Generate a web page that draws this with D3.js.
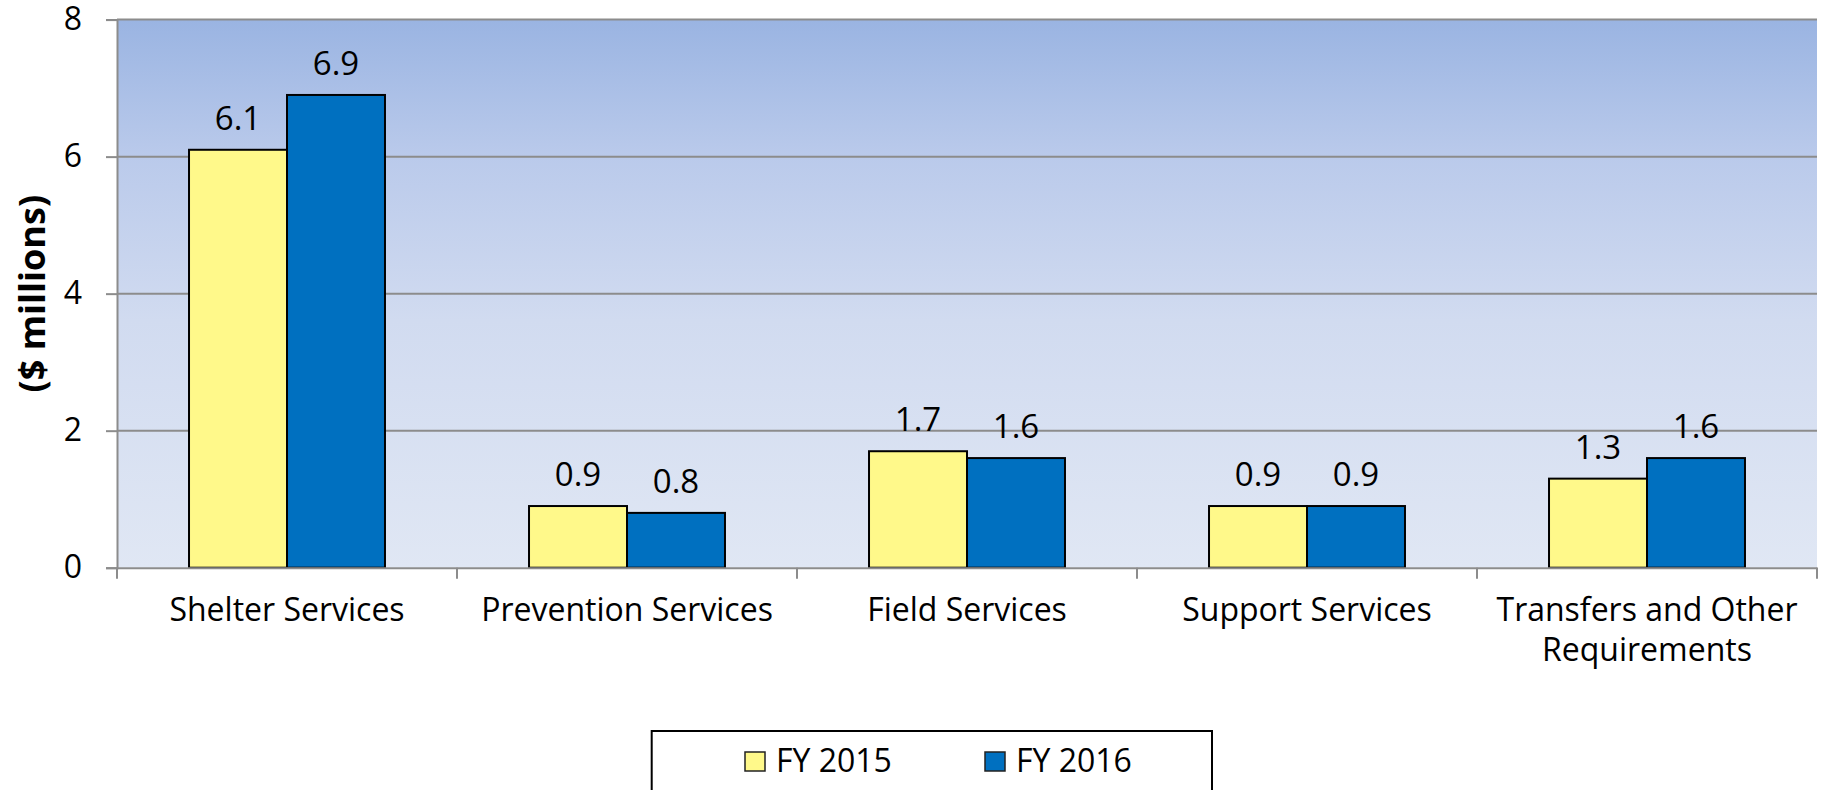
<!DOCTYPE html>
<html>
<head>
<meta charset="utf-8">
<script src="https://cdn.jsdelivr.net/npm/d3@7"></script>
<style>
  html, body { margin: 0; padding: 0; background: #fff; }
  svg { display: block; }
  text { font-family: "Open Sans", Lato, sans-serif; fill: #000; }
</style>
</head>
<body>
<svg id="chart" width="1824" height="790"></svg>
<script>
const categories = ["Shelter Services", "Prevention Services", "Field Services", "Support Services", "Transfers and Other Requirements"];
const seriesNames = ["FY 2015", "FY 2016"];
const fy2015 = [6.1, 0.9, 1.7, 0.9, 1.3];
const fy2016 = [6.9, 0.8, 1.6, 0.9, 1.6];
const yTicks = [0, 2, 4, 6, 8];
const seriesColors = ["#FFF98A", "#0070C0"];
const yTitle = "($ millions)";

const svg = d3.select("#chart");
const plot = { left: 117, right: 1817, top: 19.6, bottom: 567.7 };

const x0 = d3.scaleBand().domain(categories).range([plot.left, plot.right]).paddingInner(0).paddingOuter(0);
const x1 = d3.scaleBand().domain(seriesNames).range([0, x0.bandwidth()]).paddingInner(0).paddingOuter(0.735);
const y = d3.scaleLinear().domain([0, 8]).range([plot.bottom, plot.top]);
const color = d3.scaleOrdinal().domain(seriesNames).range(seriesColors);

// gradient background
const defs = svg.append("defs");
const grad = defs.append("linearGradient").attr("id", "bg").attr("x1", 0).attr("y1", 0).attr("x2", 0).attr("y2", 1);
grad.append("stop").attr("offset", "0%").attr("stop-color", "#9AB4E2");
grad.append("stop").attr("offset", "25%").attr("stop-color", "#BACAEB");
grad.append("stop").attr("offset", "55%").attr("stop-color", "#D1DBF0");
grad.append("stop").attr("offset", "100%").attr("stop-color", "#E0E7F4");

svg.append("rect")
  .attr("x", plot.left).attr("y", plot.top)
  .attr("width", plot.right - plot.left).attr("height", plot.bottom - plot.top)
  .attr("fill", "url(#bg)");

// gridlines
svg.append("g")
  .selectAll("line").data(yTicks.filter(d => d > 0)).join("line")
  .attr("x1", plot.left).attr("x2", plot.right)
  .attr("y1", d => y(d)).attr("y2", d => y(d))
  .attr("stroke", "#8C8C8C").attr("stroke-width", 2);

// bars
const data = categories.map((c, i) => ({ cat: c, values: [
  { s: seriesNames[0], v: fy2015[i] },
  { s: seriesNames[1], v: fy2016[i] }
]}));

const groups = svg.append("g").selectAll("g").data(data).join("g")
  .attr("transform", d => `translate(${x0(d.cat)},0)`);

groups.selectAll("rect").data(d => d.values).join("rect")
  .attr("x", d => x1(d.s))
  .attr("y", d => y(d.v))
  .attr("width", x1.bandwidth())
  .attr("height", d => y(0) - y(d.v))
  .attr("fill", d => color(d.s))
  .attr("stroke", "#000").attr("stroke-width", 2);

groups.selectAll("text.val").data(d => d.values).join("text")
  .attr("class", "val")
  .attr("x", d => x1(d.s) + x1.bandwidth() / 2)
  .attr("y", d => y(d.v) - 20)
  .attr("text-anchor", "middle")
  .style("font-size", "33px")
  .text(d => d.v.toFixed(1));

// y axis
const yAxis = d3.axisLeft(y).tickValues(yTicks).tickSize(11).tickPadding(24).tickFormat(d3.format("d"));
const yg = svg.append("g").attr("transform", `translate(${plot.left},0)`).call(yAxis);
yg.select(".domain").attr("stroke", "#8C8C8C").attr("stroke-width", 2);
yg.selectAll(".tick line").attr("stroke", "#8C8C8C").attr("stroke-width", 2);
yg.selectAll(".tick text").style("font-size", "32px").style("font-family", "'Open Sans', sans-serif").attr("fill", "#000");

// x axis
const xAxis = d3.axisBottom(x0).tickSize(0).tickFormat("");
const xg = svg.append("g").attr("transform", `translate(0,${plot.bottom})`).call(xAxis);
xg.select(".domain").attr("stroke", "#8C8C8C").attr("stroke-width", 2);
const boundaries = categories.map(c => x0(c)).concat([plot.right]);
xg.selectAll("line.bt").data(boundaries).join("line")
  .attr("class", "bt")
  .attr("x1", d => d).attr("x2", d => d)
  .attr("y1", 0).attr("y2", 11)
  .attr("stroke", "#8C8C8C").attr("stroke-width", 2);

// category labels (wrapped)
const catLabels = svg.append("g");
categories.forEach(c => {
  const cx = x0(c) + x0.bandwidth() / 2;
  const t = catLabels.append("text")
    .attr("x", cx)
    .attr("y", 621)
    .attr("text-anchor", "middle")
    .style("font-size", "32px");
  const words = c.split(" ");
  let line = [];
  let tspan = t.append("tspan").attr("x", cx).attr("dy", 0);
  words.forEach(w => {
    line.push(w);
    tspan.text(line.join(" "));
    if (tspan.node().getComputedTextLength() > 332 && line.length > 1) {
      line.pop();
      tspan.text(line.join(" "));
      line = [w];
      tspan = t.append("tspan").attr("x", cx).attr("dy", 40).text(w);
    }
  });
});

// y title
svg.append("text")
  .attr("transform", `translate(45,${(plot.top + plot.bottom) / 2}) rotate(-90)`)
  .attr("text-anchor", "middle")
  .style("font-size", "36px")
  .style("font-weight", "bold")
  .text(yTitle);

// legend
const legend = svg.append("g");
legend.append("rect")
  .attr("x", 651.7).attr("y", 731).attr("width", 560.3).attr("height", 80)
  .attr("fill", "#fff").attr("stroke", "#000").attr("stroke-width", 2);
const legX = [745, 985];
seriesNames.forEach((s, i) => {
  legend.append("rect")
    .attr("x", legX[i]).attr("y", 752).attr("width", 20).attr("height", 19)
    .attr("fill", color(s)).attr("stroke", "#222").attr("stroke-width", 1.5);
  legend.append("text")
    .attr("x", legX[i] + 31).attr("y", 772)
    .style("font-size", "32px")
    .text(s);
});
</script>
</body>
</html>
